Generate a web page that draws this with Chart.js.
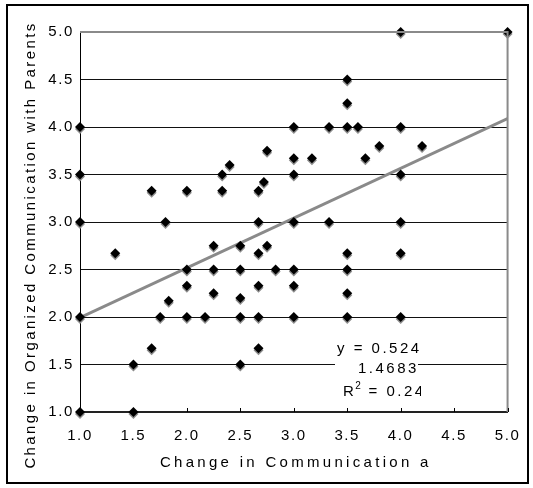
<!DOCTYPE html>
<html lang="en">
<head>
<meta charset="UTF-8" />
<title>Change in Communication</title>
<style>
  body { margin: 0; background: #fff; }
  canvas { display: block; }
</style>
</head>
<body>
<canvas id="commChart" width="533" height="488"></canvas>
<script src="https://cdn.jsdelivr.net/npm/chart.js"></script>
<script>
  // values, one entry per student
  const commX = [
    1.0, 1.0, 1.0, 1.0, 1.0,
    1.33,
    1.5, 1.5,
    1.67, 1.67,
    1.75, 1.8, 1.83,
    2.0, 2.0, 2.0, 2.0,
    2.17,
    2.25, 2.25, 2.25,
    2.33, 2.33, 2.4,
    2.5, 2.5, 2.5, 2.5, 2.5,
    2.67, 2.67, 2.67, 2.67, 2.67, 2.67,
    2.72, 2.75, 2.75, 2.83,
    3.0, 3.0, 3.0, 3.0, 3.0, 3.0, 3.0,
    3.17, 3.33, 3.33,
    3.5, 3.5, 3.5, 3.5, 3.5, 3.5, 3.5,
    3.6, 3.67, 3.8,
    4.0, 4.0, 4.0, 4.0, 4.0, 4.0,
    4.2, 5.0
  ];
  const orgY = [
    4.0, 3.5, 3.0, 2.0, 1.0,
    2.67,
    1.5, 1.0,
    3.33, 1.67,
    2.0, 3.0, 2.17,
    3.33, 2.5, 2.33, 2.0,
    2.0,
    2.75, 2.5, 2.25,
    3.5, 3.33, 3.6,
    2.75, 2.5, 2.2, 2.0, 1.5,
    3.33, 3.0, 2.67, 2.33, 2.0, 1.67,
    3.42, 3.75, 2.75, 2.5,
    4.0, 3.67, 3.5, 3.0, 2.5, 2.33, 2.0,
    3.67, 4.0, 3.0,
    4.5, 4.25, 4.0, 2.67, 2.5, 2.25, 2.0,
    4.0, 3.67, 3.8,
    5.0, 4.0, 3.5, 3.0, 2.67, 2.0,
    3.8, 5.0
  ];
  const tickValues = [1.0, 1.5, 2.0, 2.5, 3.0, 3.5, 4.0, 4.5, 5.0];
  const trendSlope = 0.524;
  const trendIntercept = 1.4683;
  const rSquared = 0.241; // last digit is cut off in the original
  const xTitle = "Change in Communication a";
  const yTitle = "Change in Organized Communication with Parents";

  const FONT = "'Liberation Sans', Arial, sans-serif";

  const points = commX.map((x, i) => ({ x: x, y: orgY[i] }));
  const trendLine = [Math.min(...commX), Math.max(...commX)].map(x => ({ x: x, y: trendSlope * x + trendIntercept }));

  const excelLook = {
    id: "excelLook",
    beforeDraw(chart) {
      chart.ctx.letterSpacing = "1.6px";
    },
    beforeDatasetDraw(chart, args) {
      if (args.index !== 0) return;
      const ctx = chart.ctx;
      ctx.save();
      ctx.shadowColor = "#8c8c8c";
      ctx.shadowOffsetX = 0;
      ctx.shadowOffsetY = 2;
      ctx.shadowBlur = 0;
    },
    afterDatasetDraw(chart, args) {
      if (args.index === 0) chart.ctx.restore();
    },
    afterDraw(chart) {
      const ctx = chart.ctx;
      const area = chart.chartArea;
      const xs = chart.scales.x;

      ctx.save();
      // grey top and right edge of the plot
      ctx.strokeStyle = "#8a8a8a";
      ctx.lineWidth = 2;
      ctx.beginPath();
      ctx.moveTo(area.left, area.top);
      ctx.lineTo(area.right, area.top);
      ctx.lineTo(area.right, area.bottom);
      ctx.stroke();

      // small tick marks pointing into the plot
      ctx.strokeStyle = "#000";
      ctx.lineWidth = 1;
      tickValues.forEach(v => {
        const px = Math.round(xs.getPixelForValue(v)) + 0.5;
        ctx.beginPath();
        ctx.moveTo(px, area.bottom);
        ctx.lineTo(px, area.bottom - 4);
        ctx.stroke();
      });

      // trendline label box
      ctx.fillStyle = "#fff";
      ctx.fillRect(335, 340, 83, 60);
      ctx.save();
      ctx.beginPath();
      ctx.rect(330, 336, 91, 70);
      ctx.clip();
      ctx.fillStyle = "#000";
      ctx.font = "15px " + FONT;
      ctx.letterSpacing = "2.5px";
      ctx.textBaseline = "middle";
      ctx.textAlign = "left";
      ctx.fillText("y = " + trendSlope, 337, 349);
      ctx.fillText(trendIntercept.toFixed(4), 358, 369);
      ctx.fillText("R", 343, 392);
      let rx = 343 + ctx.measureText("R").width;
      ctx.font = "10px " + FONT;
      ctx.letterSpacing = "0px";
      ctx.fillText("2", rx - 1, 386);
      rx += ctx.measureText("2").width;
      ctx.font = "15px " + FONT;
      ctx.letterSpacing = "2.5px";
      ctx.fillText(" = " + rSquared, rx, 392);
      ctx.restore();

      // axis titles
      ctx.fillStyle = "#000";
      ctx.font = "15px " + FONT;
      ctx.textAlign = "center";
      ctx.textBaseline = "middle";
      ctx.letterSpacing = "3.3px";
      ctx.fillText(xTitle, (area.left + area.right) / 2 + 2, 463);
      ctx.save();
      ctx.translate(31, 245);
      ctx.rotate(-Math.PI / 2);
      ctx.letterSpacing = "2.4px";
      ctx.fillText(yTitle, 0, 0);
      ctx.restore();

      // outer frame
      ctx.strokeStyle = "#000";
      ctx.lineWidth = 2;
      ctx.strokeRect(7, 5, 521, 478);
      ctx.restore();
    }
  };

  new Chart(document.getElementById("commChart").getContext("2d"), {
    type: "scatter",
    data: {
      datasets: [{
        label: "Students",
        data: points,
        pointStyle: "rectRot",
        pointRadius: 5,
        pointHoverRadius: 5,
        backgroundColor: "#000",
        borderColor: "#000",
        borderWidth: 0,
        clip: false
      }, {
        type: "line",
        label: "Trend",
        data: trendLine,
        borderColor: "#8a8a8a",
        borderWidth: 3,
        pointRadius: 0,
        fill: false
      }]
    },
    options: {
      responsive: false,
      animation: false,
      layout: { padding: { left: 0, right: 21, top: 32, bottom: 0 } },
      plugins: {
        legend: { display: false },
        tooltip: { enabled: false }
      },
      scales: {
        x: {
          type: "linear",
          min: 1,
          max: 5,
          afterFit: s => { s.height = 76; },
          afterBuildTicks: s => { s.ticks = tickValues.map(v => ({ value: v })); },
          ticks: {
            callback: v => v.toFixed(1),
            color: "#000",
            font: { family: FONT, size: 15 },
            padding: 15,
            maxRotation: 0
          },
          grid: { display: false, drawTicks: false },
          border: { display: true, color: "#222", width: 2 }
        },
        y: {
          type: "linear",
          min: 1,
          max: 5,
          afterFit: s => { s.width = 80; },
          afterBuildTicks: s => { s.ticks = tickValues.map(v => ({ value: v })); },
          ticks: {
            callback: v => v.toFixed(1),
            color: "#000",
            font: { family: FONT, size: 15 },
            padding: 6
          },
          grid: {
            drawTicks: false,
            color: c => (c.tick && c.tick.value === 5 ? "rgba(0,0,0,0)" : "#111"),
            lineWidth: 1
          },
          border: { display: true, color: "#000", width: 1 }
        }
      }
    },
    plugins: [excelLook]
  });
</script>
</body>
</html>
